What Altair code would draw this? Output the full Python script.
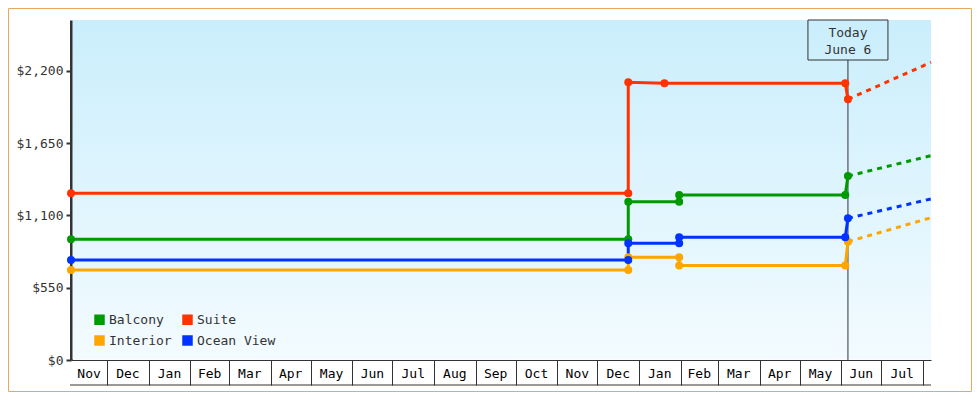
import altair as alt
import pandas as pd

# ---------------- data ----------------
series_names = ["Balcony", "Suite", "Interior", "Ocean View"]
series_colors = ["#009900", "#ff3300", "#ffa500", "#0033ff"]

dates_step = ["2011-11-04", "2012-12-24", "2012-12-24", "2013-01-31",
              "2013-01-31", "2013-06-04", "2013-06-06"]
prices_balcony = [918, 918, 1204, 1204, 1255, 1255, 1399]
prices_interior = [685, 685, 781, 781, 719, 719, 900]
prices_ocean = [761, 761, 888, 888, 933, 933, 1078]

dates_suite = ["2011-11-04", "2012-12-24", "2012-12-24", "2013-01-20",
               "2013-06-04", "2013-06-06"]
prices_suite = [1268, 1268, 2112, 2105, 2105, 1983]

proj_dates = ["2013-06-06", "2013-08-07"]
proj_balcony = [1399, 1554]
proj_suite = [1983, 2264]
proj_interior = [900, 1082]
proj_ocean = [1078, 1225]

domain_start = "2011-11-04"
domain_end = "2013-08-07"
month_starts = ["2011-12-01", "2012-01-01", "2012-02-01", "2012-03-01", "2012-04-01",
                "2012-05-01", "2012-06-01", "2012-07-01", "2012-08-01", "2012-09-01",
                "2012-10-01", "2012-11-01", "2012-12-01", "2013-01-01", "2013-02-01",
                "2013-03-01", "2013-04-01", "2013-05-01", "2013-06-01", "2013-07-01",
                "2013-08-01"]
month_labels = ["Nov", "Dec", "Jan", "Feb", "Mar", "Apr", "May", "Jun", "Jul", "Aug",
                "Sep", "Oct", "Nov", "Dec", "Jan", "Feb", "Mar", "Apr", "May", "Jun", "Jul"]

y_ticks = [0, 550, 1100, 1650, 2200]
y_max = 2586

today_date = "2013-06-06"
today_lines = ["Today", "June 6"]

# ---------------- tables ----------------
FONT = "DejaVu Sans Mono"
W, H = 860, 340


def hist(name, dates, prices):
    return pd.DataFrame({"series": name, "date": pd.to_datetime(dates),
                         "price": prices, "order": range(len(prices))})


hist_df = pd.concat([
    hist("Balcony", dates_step, prices_balcony),
    hist("Suite", dates_suite, prices_suite),
    hist("Interior", dates_step, prices_interior),
    hist("Ocean View", dates_step, prices_ocean),
], ignore_index=True)

proj_df = pd.concat([
    hist("Balcony", proj_dates, proj_balcony),
    hist("Suite", proj_dates, proj_suite),
    hist("Interior", proj_dates, proj_interior),
    hist("Ocean View", proj_dates, proj_ocean),
], ignore_index=True)

bounds = [pd.Timestamp(domain_start)] + [pd.Timestamp(d) for d in month_starts]
mids = [bounds[i] + (bounds[i + 1] - bounds[i]) / 2 for i in range(len(month_labels))]
months_df = pd.DataFrame({"date": mids, "label": month_labels})

today_df = pd.DataFrame({"date": [pd.Timestamp(today_date)]})
one = pd.DataFrame({"a": [0]})


def dt(s):
    t = pd.Timestamp(s)
    return alt.DateTime(year=t.year, month=t.month, date=t.day)


x_scale = alt.Scale(domain=[dt(domain_start), dt(domain_end)])
y_scale = alt.Scale(domain=[0, y_max], nice=False)
color_scale = alt.Scale(domain=series_names, range=series_colors)

x_axis = alt.Axis(values=[dt(d) for d in month_starts], labels=False, tickSize=25,
                  tickColor="#333", tickWidth=1, domainColor="#333", domainWidth=1,
                  grid=False, title=None)
y_axis = alt.Axis(values=y_ticks, format="$,.0f", labelFont=FONT, labelFontSize=13,
                  labelColor="#333", domainColor="#333", domainWidth=3, tickColor="#333",
                  tickWidth=2, tickSize=5, labelPadding=3, grid=False, title=None)

X = alt.X("date:T", scale=x_scale, axis=x_axis)
Y = alt.Y("price:Q", scale=y_scale, axis=y_axis)

# ---------------- layers ----------------
border = alt.Chart(one).mark_rect(fillOpacity=0, stroke="#e8a860", strokeWidth=1).encode(
    x=alt.value(-62.5), x2=alt.value(W + 40.5), y=alt.value(-11.5), y2=alt.value(H + 31.5))

bg = alt.Chart(one).mark_rect(
    color=alt.LinearGradient(
        gradient="linear",
        stops=[alt.GradientStop(color="#caeefc", offset=0),
               alt.GradientStop(color="#f3fbff", offset=1)],
        x1=0, x2=0, y1=0, y2=1)
).encode(x=alt.value(1.5), x2=alt.value(W), y=alt.value(0), y2=alt.value(H - 0.5))

bottom_line = alt.Chart(one).mark_rule(color="#333", strokeWidth=1).encode(
    x=alt.value(-1), x2=alt.value(W), y=alt.value(H + 25), y2=alt.value(H + 25))

month_text = alt.Chart(months_df).mark_text(
    font=FONT, fontSize=13, color="#000", baseline="middle", align="center"
).encode(x=X, y=alt.value(H + 13.5), text="label:N")

today_rule = alt.Chart(today_df).mark_rule(color="#333", strokeWidth=1).encode(
    x=X, y=alt.value(40), y2=alt.value(H))

today_box = alt.Chart(today_df).mark_point(
    shape="M-1,-0.5L1,-0.5L1,0.5L-1,0.5Z", size=6400, filled=False,
    stroke="#333", strokeWidth=1, opacity=1
).encode(x=X, y=alt.value(20))

today_t1 = alt.Chart(today_df).mark_text(
    font=FONT, fontSize=13, color="#333", baseline="middle", text=today_lines[0]
).encode(x=X, y=alt.value(12.5))

today_t2 = alt.Chart(today_df).mark_text(
    font=FONT, fontSize=13, color="#333", baseline="middle", text=today_lines[1]
).encode(x=X, y=alt.value(29.5))

lines = alt.Chart(hist_df).mark_line(strokeWidth=3).encode(
    x=X, y=Y,
    color=alt.Color("series:N", scale=color_scale, legend=None),
    order="order:Q",
)

dashed = alt.Chart(proj_df).mark_line(strokeWidth=3, strokeDash=[5, 5]).encode(
    x=X, y=Y,
    color=alt.Color("series:N", scale=color_scale, legend=None),
    order="order:Q",
)

points = alt.Chart(hist_df).mark_point(filled=True, size=64, opacity=1).encode(
    x=X, y=Y,
    color=alt.Color("series:N", scale=color_scale, legend=alt.Legend(
        title=None, orient="none", legendX=22, legendY=293, columns=2,
        direction="horizontal",
        symbolType="square", symbolSize=110, symbolStrokeWidth=0, symbolOpacity=1,
        labelFont=FONT, labelFontSize=13, labelColor="#333", labelOffset=3,
        columnPadding=9, rowPadding=7, padding=0)),
)

chart = alt.layer(
    border, bg, bottom_line, month_text, today_rule, today_box, today_t1, today_t2,
    lines, dashed, points
).resolve_legend(color="independent").properties(
    width=W, height=H,
    padding={"left": 63, "top": 12, "right": 41, "bottom": 32},
    autosize=alt.AutoSizeParams(type="none"),
).configure_view(stroke=None)

chart.save("out.html", embed_options={"renderer": "svg", "actions": False})
